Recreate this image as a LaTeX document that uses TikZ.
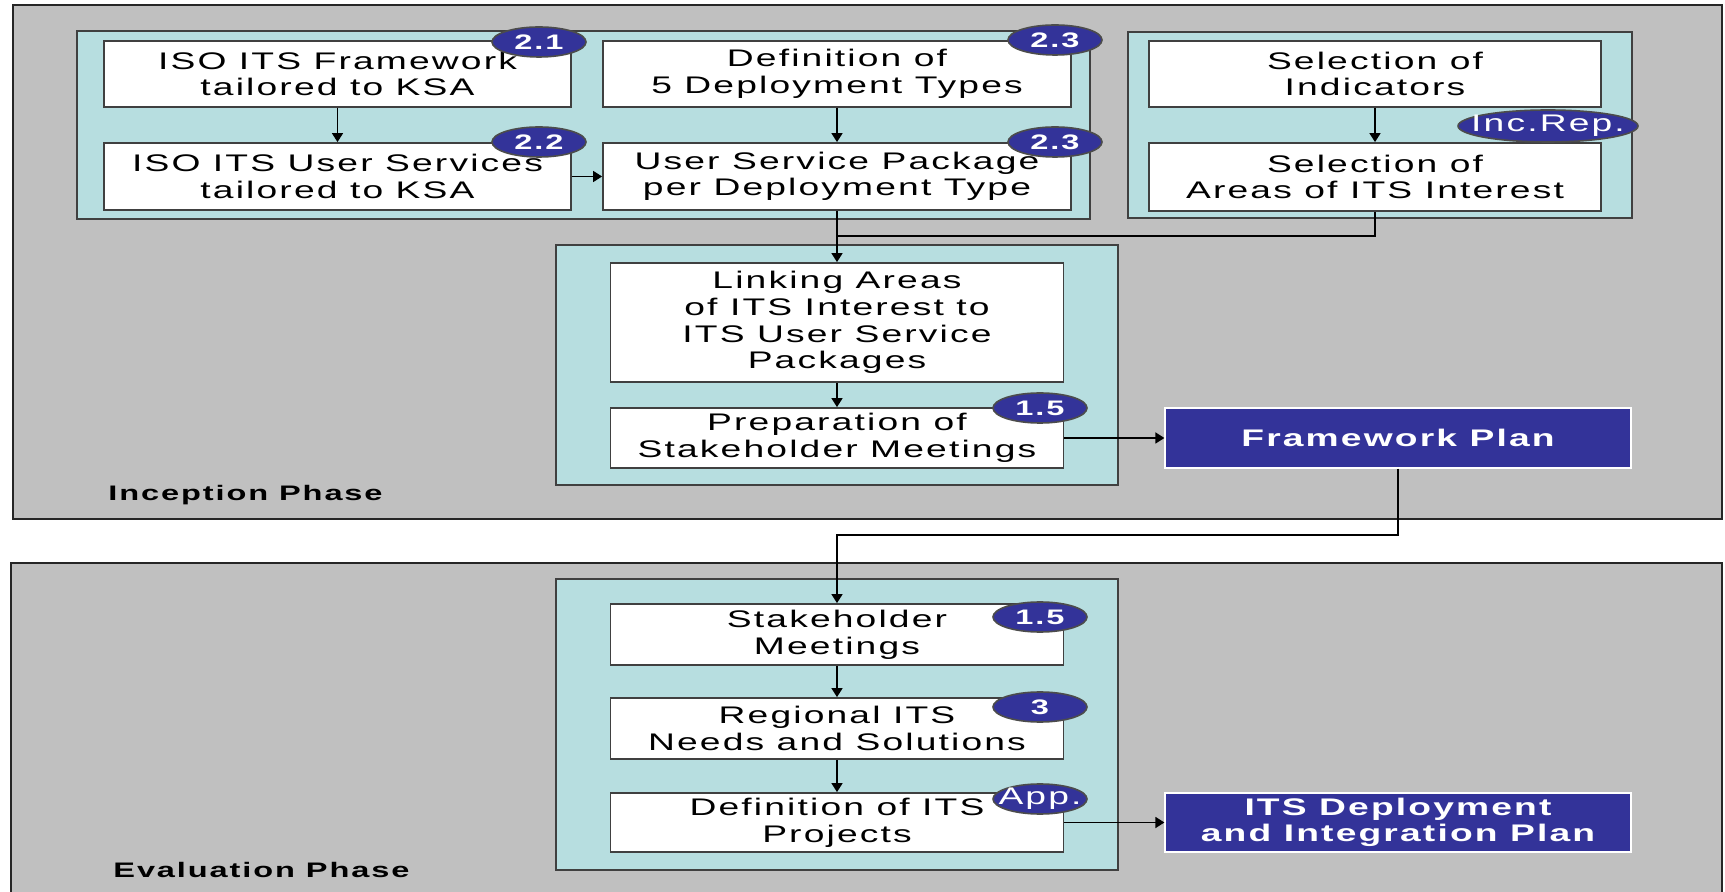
\documentclass[tikz,border=0pt]{standalone}
\usepackage{fontspec}
\setmainfont{Liberation Sans}[FakeStretch=1.55,LetterSpace=9]
\usetikzlibrary{arrows.meta}
\tikzset{>={Triangle[length=4.5pt,width=5.5pt]}}
\usetikzlibrary{shapes,positioning}
\definecolor{panelgray}{HTML}{C0C0C0}
\definecolor{groupteal}{HTML}{B7DEE0}
\definecolor{badgeblue}{HTML}{333399}

\tikzset{
  phase/.style={draw=black!85, line width=1pt, fill=panelgray},
  group/.style={draw=black!75, line width=0.9pt, fill=groupteal},
  stepbox/.style={draw=black!75, line width=0.9pt, fill=white, align=center,
    inner sep=0pt, font=\fontsize{12}{13.3}\selectfont},
  planbox/.style={draw=white, line width=0.6pt, fill=badgeblue, text=white,
    align=center, inner sep=0pt, font=\bfseries\fontsize{12}{13.3}\selectfont},
  badge/.style={ellipse, draw=black!70, line width=0.8pt, fill=badgeblue,
    text=white, inner sep=0pt, minimum width=47pt, minimum height=15pt,
    font=\bfseries\fontsize{10.5}{10.5}\selectfont},
  notebadge/.style={badge, inner xsep=-9pt, inner ysep=-2pt,
    font=\fontsize{12}{12}\selectfont},
  phaselabel/.style={anchor=base west, inner sep=0pt,
    font=\bfseries\fontsize{10.5}{10.5}\selectfont},
  conn/.style={->, line width=0.8pt},
}

\begin{document}
\begin{tikzpicture}[x=0.5pt,y=-0.5pt]
\useasboundingbox (0,0) rectangle (1725,892);

% phases and groups
\draw[phase] (13,5) rectangle (1722,519);
\draw[phase] (11,563) rectangle (1722,905);
\draw[group] (77,31) rectangle (1090,219);
\draw[group] (1128,32) rectangle (1632,218);
\draw[group] (556,245) rectangle (1118,485);
\draw[group] (556,579) rectangle (1118,870);

\node[phaselabel] (inception) at (108,501) {Inception Phase};
\node[phaselabel] (evaluation) at (113,877) {Evaluation Phase};

% inception steps
\node[stepbox, minimum width=233.5pt, minimum height=33pt] (iso) at (337.5,74) {ISO ITS Framework\\tailored to KSA};
\node[stepbox, minimum width=234pt, minimum height=33pt] (types) at (837,74) {Definition of\\5 Deployment Types};
\node[stepbox, minimum width=233.5pt, minimum height=33.5pt] (services) at (337.5,176.5) {ISO ITS User Services\\tailored to KSA};
\node[stepbox, minimum width=234pt, minimum height=33.5pt] (package) at (837,176.5) {User Service Package\\per Deployment Type};
\node[stepbox, minimum width=226pt, minimum height=33pt] (indicators) at (1375,74) {Selection of\\Indicators};
\node[stepbox, minimum width=226pt, minimum height=34pt] (areas) at (1375,177) {Selection of\\Areas of ITS Interest};
\node[stepbox, minimum width=226.5pt, minimum height=59.5pt] (linking) at (837,322.5) {Linking Areas\\of ITS Interest to\\ITS User Service\\Packages};
\node[stepbox, minimum width=226.5pt, minimum height=30pt] (prep) at (837,438) {Preparation of\\Stakeholder Meetings};
\node[planbox, minimum width=233pt, minimum height=30pt] (fwplan) at (1398,438) {Framework Plan};

% evaluation steps
\node[stepbox, minimum width=226.5pt, minimum height=30.5pt] (meetings) at (837,634.5) {Stakeholder\\Meetings};
\node[stepbox, minimum width=226.5pt, minimum height=30.5pt] (needs) at (837,728.5) {Regional ITS\\Needs and Solutions};
\node[stepbox, minimum width=226.5pt, minimum height=29.5pt] (projects) at (837,822.5) {Definition of ITS\\Projects};
\node[planbox, minimum width=233pt, minimum height=29.5pt] (itsplan) at (1398,822.5) {ITS Deployment\\and Integration Plan};

% connectors
\coordinate (merge) at (837,236);
\coordinate (handover) at (1398,535);
\draw[conn] (iso) -- (services);
\draw[conn] (types) -- (package);
\draw[conn] (indicators) -- (areas);
\draw[conn] (services) -- (package);
\draw[conn] (package) -- (linking);
\draw[line width=0.8pt] (areas.south) |- (merge);
\draw[conn] (linking) -- (prep);
\draw[conn] (prep) -- (fwplan);
\draw[conn] (fwplan.south) -- (handover) -| (meetings.north);
\draw[conn] (meetings) -- (needs);
\draw[conn] (needs) -- (projects);
\draw[conn] (projects) -- (itsplan);

% report badges
\node[badge] (b21) at (539,42) {2.1};
\node[badge] (b23a) at (1055,40) {2.3};
\node[badge] (b22) at (539,142) {2.2};
\node[badge] (b23b) at (1055,142) {2.3};
\node[notebadge, minimum width=90pt, minimum height=16pt] (increp) at (1548,126) {Inc.Rep.};
\node[badge] (b15a) at (1040,408) {1.5};
\node[badge] (b15b) at (1040,617) {1.5};
\node[badge] (b3) at (1040,707) {3};
\node[notebadge] (app) at (1040,799) {App.};
\end{tikzpicture}
\end{document}
